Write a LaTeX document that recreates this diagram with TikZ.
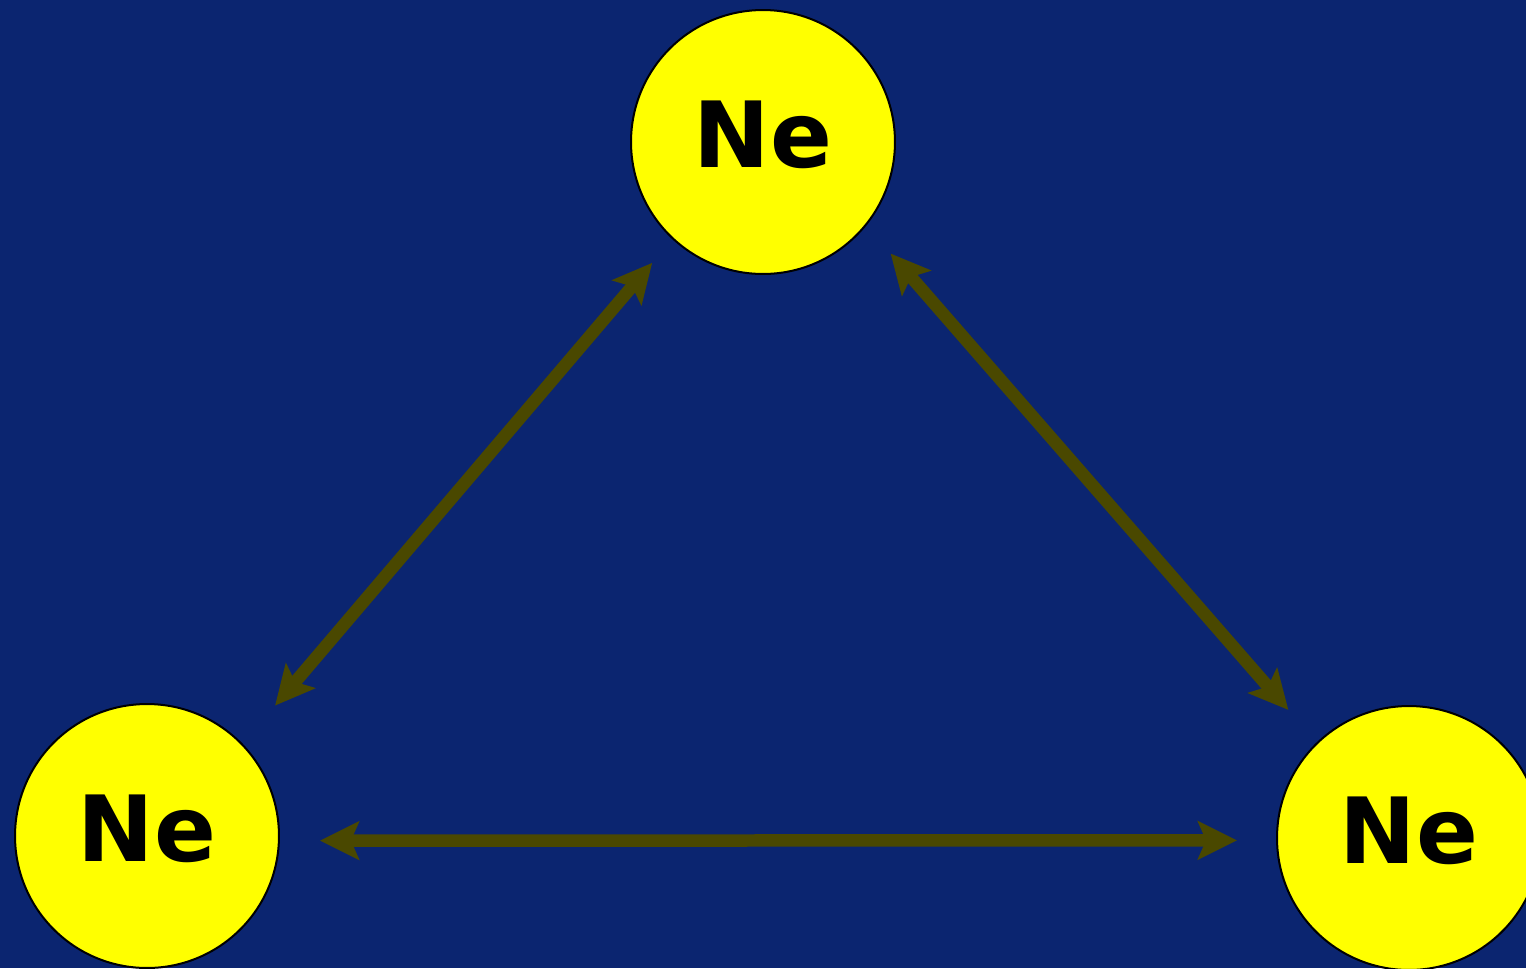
\documentclass[tikz,border=0pt]{standalone}
\usepackage{fontspec}
\setmainfont{DejaVu Sans}
\usepackage{xcolor}
\usepackage{tikz}
\usetikzlibrary{arrows.meta}

\definecolor{bgblue}{RGB}{11,37,112}
\definecolor{bondolive}{RGB}{74,72,0}
\definecolor{atomyellow}{RGB}{255,255,0}

\begin{document}
\begin{tikzpicture}[
    x=0.02cm, y=-0.02cm,
    >={Stealth[length=0.78cm, width=0.76cm, inset=0.16cm]},
    every node/.style={font=\fontsize{52}{60}\selectfont\bfseries},
    atom/.style={circle, draw=black, line width=0.04cm, fill=atomyellow, minimum size=5.28cm, inner sep=0pt, text depth=0.32cm},
    bond/.style={<->, bondolive, line width=0.25cm}
  ]

    % Background
    \clip (0,0) rectangle (1526,968);
    \fill[bgblue] (0,0) rectangle (1526,968);

    % Atoms
    \node[atom] (atomtop) at (763,142) {Ne};
    \node[atom] (atomleft) at (147,836) {Ne};
    \node[atom] (atomright) at (1409,838) {Ne};

    % Bonds - double headed arrows between atoms
    \draw[bond, shorten <=1cm, shorten >=0.62cm] (atomleft.44.2) -- (atomtop.227);

    \draw[bond, shorten <=0.74cm, shorten >=0.86cm] (atomtop.-39) -- (atomright.134.5);

    \draw[bond, shorten <=0.8cm, shorten >=0.78cm] (atomleft.-2.6) -- (atomright.181.7);

\end{tikzpicture}
\end{document}
